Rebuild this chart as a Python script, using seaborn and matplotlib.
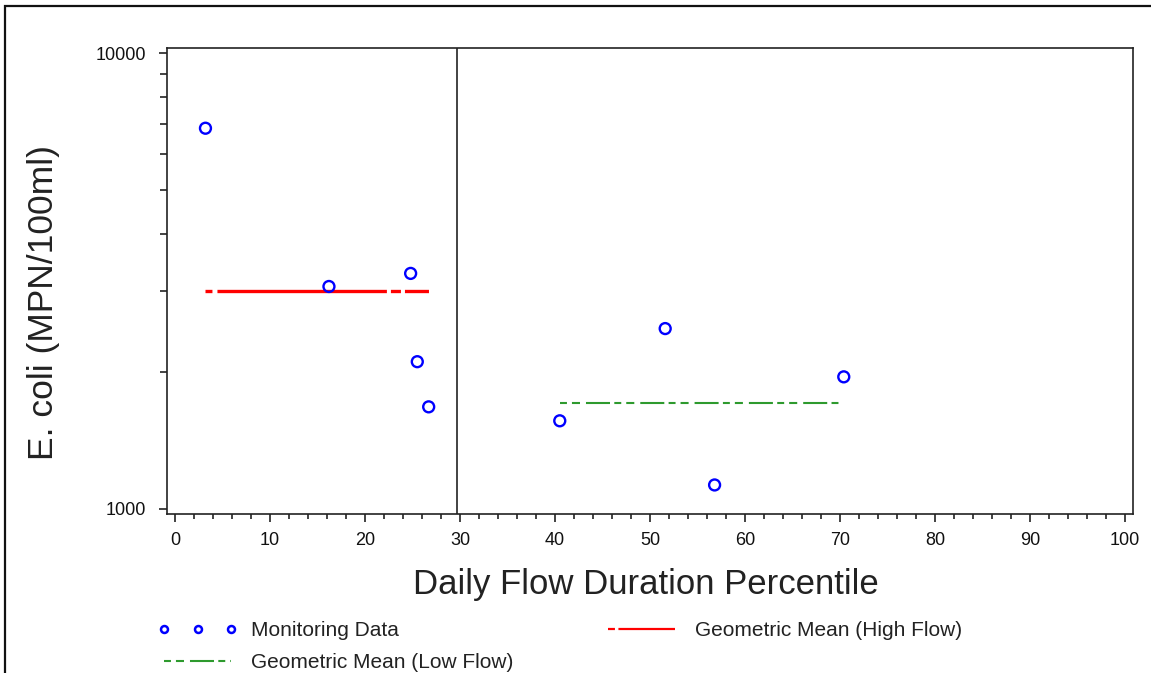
import matplotlib
matplotlib.use("Agg")
import matplotlib.pyplot as plt
import matplotlib.ticker as mticker
from matplotlib.patches import Rectangle
from matplotlib.lines import Line2D
import seaborn as sns
import pandas as pd

# ---- data ----
flow_pct = [3.2, 16.2, 24.8, 25.5, 26.7, 40.5, 51.6, 56.8, 70.4]
ecoli = [6840, 3076, 3286, 2104, 1675, 1561, 2487, 1129, 1949]
high_x = [3.2, 26.8]
high_mean = [3012, 3012]
low_x = [40.5, 70.3]
low_mean = [1710, 1710]
divider_x = 29.7
x_ticks = [0, 10, 20, 30, 40, 50, 60, 70, 80, 90, 100]
y_ticks = [1000, 10000]

sns.set_style("white")
plt.rcParams["font.family"] = ["Liberation Sans", "DejaVu Sans"]
plt.rcParams["lines.scale_dashes"] = False

RED_DASH = [5, 3.6, 122, 2.9, 7.2, 2.9, 17.3, 3.6]
GREEN_DASH = [5, 3.6, 5.8, 4.3, 17.3, 3.1]
TXT = "#222222"

fig = plt.figure(figsize=(11.51, 6.73), dpi=100)
ax = fig.add_axes([167/1151, (673-514)/673, (1133-167)/1151, (514-48)/673])

pts = pd.DataFrame({"x": flow_pct, "y": ecoli})
sns.scatterplot(data=pts, x="x", y="y", ax=ax, marker="o", s=62,
                facecolors="none", edgecolor="#0000ff", linewidth=1.7,
                legend=False, zorder=3)

hi = pd.DataFrame({"x": high_x, "y": high_mean})
lo = pd.DataFrame({"x": low_x, "y": low_mean})
sns.lineplot(data=hi, x="x", y="y", ax=ax, color="#ff0000", linewidth=2.4,
             legend=False, zorder=2)
ax.lines[-1].set_dashes(RED_DASH)
sns.lineplot(data=lo, x="x", y="y", ax=ax, color="#2e9a2e", linewidth=1.5,
             legend=False, zorder=2)
ax.lines[-1].set_dashes(GREEN_DASH)

ax.axvline(divider_x, color=TXT, linewidth=1.2, zorder=1)

ax.set_yscale("log")
ax.set_xlim(-0.85, 100.85)
ax.set_ylim(975, 10257)
ax.set_xticks(x_ticks)
ax.set_xticklabels([str(t) for t in x_ticks])
ax.xaxis.set_minor_locator(mticker.MultipleLocator(2))
ax.set_yticks(y_ticks)
ax.set_yticklabels([str(t) for t in y_ticks])
ax.yaxis.set_minor_locator(mticker.LogLocator(base=10, subs=range(2, 10)))
ax.yaxis.set_minor_formatter(mticker.NullFormatter())

ax.tick_params(axis="both", which="major", direction="out", length=6, width=1.2,
               color=TXT, labelsize=13, labelcolor="#111111",
               bottom=True, left=True)
ax.tick_params(axis="x", which="major", pad=7)
ax.tick_params(axis="y", which="major", pad=9)
ax.tick_params(axis="both", which="minor", direction="out", length=3.5, width=1.2,
               color=TXT, bottom=True, left=True)
ax.tick_params(axis="y", which="minor", length=5)
for s in ax.spines.values():
    s.set_color(TXT)
    s.set_linewidth(1.2)

ax.set_xlabel("Daily Flow Duration Percentile", fontsize=25, color=TXT)
ax.xaxis.set_label_coords(0.496, -0.116)
ax.set_ylabel("E. coli (MPN/100ml)", fontsize=25.5, color=TXT)
ax.yaxis.set_label_coords(-0.111, 0.453)

mon_h = Line2D([], [], linestyle="none", marker="o", markersize=5, markerfacecolor="none",
               markeredgecolor="#0000ff", markeredgewidth=1.8)
low_h = Line2D([], [], color="#2e9a2e", linewidth=1.5, dashes=GREEN_DASH)
high_h = Line2D([], [], color="#ff0000", linewidth=1.6, dashes=[5, 2.5, 60, 3])

leg_kw = dict(loc="upper left", frameon=False, fontsize=15, handlelength=3.8,
              handletextpad=0.67, labelspacing=0.62, numpoints=3,
              borderaxespad=0, borderpad=0)
leg1 = fig.legend([mon_h, low_h], ["Monitoring Data", "Geometric Mean (Low Flow)"],
                  bbox_to_anchor=(158/1151, 1 - 621/673), **leg_kw)
leg2 = fig.legend([high_h], ["Geometric Mean (High Flow)"],
                  bbox_to_anchor=(602/1151, 1 - 621/673), **leg_kw)
for lg in (leg1, leg2):
    for t in lg.get_texts():
        t.set_color(TXT)

fig.add_artist(Rectangle((5/1151, -0.1), 1.2, 1 - 6/673 + 0.1, transform=fig.transFigure,
                         fill=False, edgecolor="#111111", linewidth=1.6))

fig.savefig("out.png", dpi=100)
